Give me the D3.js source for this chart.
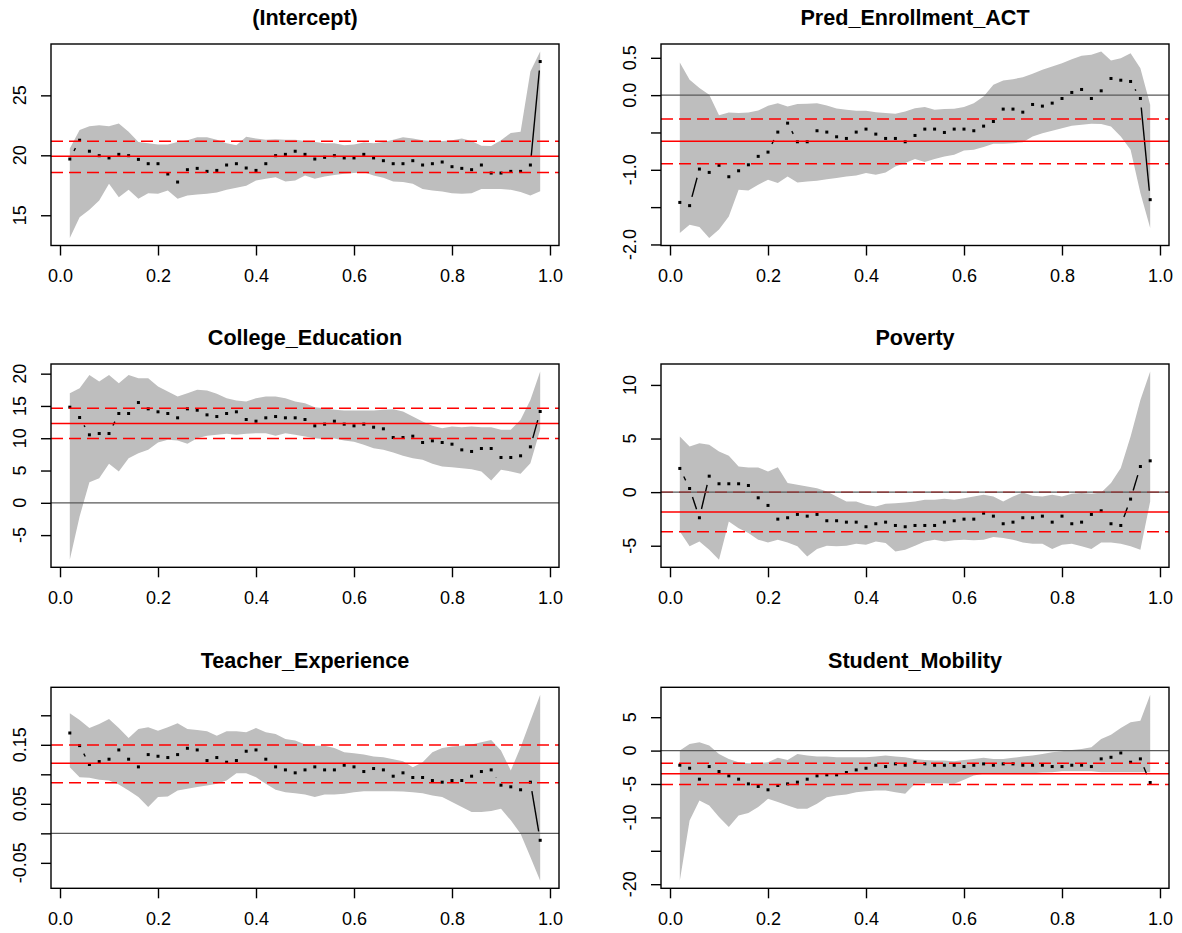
<!DOCTYPE html>
<html>
<head>
<meta charset="utf-8">
<script src="https://cdn.jsdelivr.net/npm/d3@7"></script>
<style>
  body { margin: 0; background: #fff; }
  svg { display: block; font-family: "Liberation Sans", Arial, sans-serif; }
</style>
</head>
<body>
<div id="chart"></div>
<script>
// quantile levels
var taus = [0.02, 0.04, 0.06, 0.08, 0.10, 0.12, 0.14, 0.16, 0.18, 0.20,
            0.22, 0.24, 0.26, 0.28, 0.30, 0.32, 0.34, 0.36, 0.38, 0.40,
            0.42, 0.44, 0.46, 0.48, 0.50, 0.52, 0.54, 0.56, 0.58, 0.60,
            0.62, 0.64, 0.66, 0.68, 0.70, 0.72, 0.74, 0.76, 0.78, 0.80,
            0.82, 0.84, 0.86, 0.88, 0.90, 0.92, 0.94, 0.96, 0.98];

var titles = ["(Intercept)", "Pred_Enrollment_ACT", "College_Education",
              "Poverty", "Teacher_Experience", "Student_Mobility"];

// (Intercept)
var intercept_est = [19.69, 21.26, 20.34, 19.97, 19.78, 20.08, 19.97, 19.66, 19.30, 19.30, 18.44, 17.77, 18.80, 18.91, 18.66, 18.74, 19.19, 19.30, 18.94, 18.74, 19.30, 19.97, 20.08, 20.34, 20.08, 19.69, 19.83, 19.97, 19.78, 19.78, 20.08, 19.78, 19.55, 19.30, 19.30, 19.55, 19.19, 19.30, 19.44, 19.05, 18.91, 18.80, 19.19, 18.52, 18.52, 18.66, 18.66, 19.19, 27.82];
var intercept_hi = [20.56, 22.1, 22.43, 22.5, 22.43, 22.65, 21.96, 21.1, 21.0, 20.9, 20.9, 21.1, 21.26, 21.5, 21.5, 21.3, 21.0, 20.84, 21.54, 21.4, 21.3, 21.34, 21.3, 21.3, 21.2, 21.1, 21.0, 21.0, 20.84, 20.9, 21.06, 21.0, 21.1, 21.3, 21.5, 21.4, 21.26, 21.2, 21.2, 21.26, 21.4, 21.2, 20.8, 20.78, 21.26, 21.87, 21.96, 26.98, 28.66];
var intercept_lo = [13.1, 14.83, 15.45, 16.23, 17.63, 16.5, 17.12, 16.37, 16.84, 16.79, 17.07, 16.37, 16.65, 16.73, 16.79, 16.9, 17.12, 17.3, 17.46, 17.9, 18.04, 18.18, 17.82, 17.9, 18.32, 18.04, 18.24, 18.35, 18.46, 18.52, 18.58, 18.32, 18.13, 17.82, 17.77, 17.63, 17.2, 17.07, 16.98, 16.84, 16.79, 16.84, 17.2, 17.2, 17.18, 17.12, 16.93, 16.65, 17.0];
var intercept_ols = [19.92, 18.57, 21.17]; // estimate, lower, upper

// Pred_Enrollment_ACT
var pred_est = [-1.437, -1.48, -0.99, -1.035, -0.94, -1.093, -1.013, -0.933, -0.82, -0.763, -0.495, -0.375, -0.625, -0.625, -0.477, -0.495, -0.558, -0.58, -0.495, -0.455, -0.522, -0.58, -0.58, -0.625, -0.54, -0.455, -0.455, -0.50, -0.455, -0.455, -0.477, -0.415, -0.353, -0.187, -0.187, -0.228, -0.125, -0.147, -0.107, -0.045, 0.036, 0.076, -0.045, 0.058, 0.223, 0.20, 0.183, -0.045, -1.40];
var pred_hi = [0.437, 0.205, 0.094, 0.004, -0.27, -0.232, -0.24, -0.232, -0.205, -0.143, -0.107, -0.152, -0.12, -0.116, -0.107, -0.138, -0.178, -0.196, -0.21, -0.21, -0.228, -0.24, -0.25, -0.22, -0.174, -0.16, -0.196, -0.187, -0.183, -0.16, -0.107, -0.018, 0.138, 0.196, 0.214, 0.24, 0.286, 0.34, 0.384, 0.428, 0.482, 0.527, 0.54, 0.585, 0.464, 0.495, 0.562, 0.361, -0.13];
var pred_lo = [-1.847, -1.736, -1.767, -1.914, -1.80, -1.624, -1.267, -1.276, -1.20, -1.133, -1.178, -1.089, -1.169, -1.156, -1.147, -1.125, -1.111, -1.089, -1.075, -1.044, -1.066, -1.035, -0.955, -0.91, -0.857, -0.897, -0.857, -0.821, -0.80, -0.741, -0.732, -0.696, -0.651, -0.651, -0.643, -0.63, -0.553, -0.509, -0.477, -0.442, -0.41, -0.397, -0.384, -0.388, -0.42, -0.553, -0.732, -1.312, -1.78];
var pred_ols = [-0.616, -0.920, -0.321];

// College_Education
var college_est = [14.81, 13.21, 10.53, 10.73, 10.73, 13.83, 13.83, 15.53, 14.55, 14.09, 13.83, 13.16, 14.55, 14.34, 13.62, 13.36, 13.83, 14.09, 12.9, 12.64, 13.16, 13.36, 13.16, 13.16, 12.9, 11.92, 12.18, 12.64, 12.18, 11.92, 12.18, 11.71, 11.46, 10.11, 10.11, 10.32, 9.34, 9.6, 9.34, 9.08, 8.2, 7.95, 8.41, 8.41, 7.02, 7.02, 7.28, 8.67, 14.14];
var college_hi = [16.98, 17.75, 19.81, 18.78, 19.81, 18.52, 19.81, 19.30, 19.30, 18.01, 17.23, 16.46, 16.98, 17.49, 17.39, 16.87, 16.2, 15.84, 15.69, 16.2, 16.46, 16.46, 16.2, 15.69, 15.43, 14.81, 14.65, 14.4, 14.29, 14.29, 14.29, 14.29, 14.4, 14.5, 14.14, 13.36, 12.59, 11.92, 11.56, 11.82, 11.71, 11.82, 11.71, 11.71, 11.3, 11.3, 12.85, 15.94, 20.33];
var college_lo = [-8.82, -2.12, 3.2, 3.82, 6.04, 4.85, 6.91, 7.69, 8.2, 9.34, 9.75, 9.65, 9.13, 10.01, 10.37, 10.53, 10.68, 10.53, 10.68, 10.78, 10.78, 10.37, 10.78, 10.53, 10.27, 10.01, 9.86, 9.96, 9.65, 9.44, 8.98, 8.46, 8.2, 7.79, 7.28, 6.91, 6.66, 6.04, 5.62, 5.52, 5.37, 5.21, 4.85, 3.46, 5.11, 4.85, 4.49, 6.14, 11.3];
var college_ols = [12.27, 9.95, 14.66];

// Poverty
var poverty_est = [2.21, 0.34, -2.39, 1.49, 0.78, 0.78, 0.78, 0.62, -0.53, -1.24, -2.52, -2.39, -2.08, -2.24, -2.08, -2.67, -2.67, -2.8, -2.8, -3.23, -2.95, -2.8, -3.11, -3.23, -3.11, -3.11, -3.11, -2.8, -2.67, -2.52, -2.52, -1.96, -2.24, -2.95, -2.8, -2.39, -2.39, -2.24, -2.8, -2.24, -2.95, -2.8, -2.08, -1.74, -2.95, -3.11, -0.65, 2.39, 2.92];
var poverty_hi = [5.19, 4.26, 4.57, 4.41, 3.79, 3.39, 2.39, 2.3, 2.3, 1.93, 2.33, 0.84, 0.68, 0.53, 0.37, 0.06, -0.4, -0.87, -0.87, -1.18, -1.34, -1.09, -1.03, -0.96, -0.87, -0.71, -0.71, -0.62, -0.71, -0.56, -0.4, -0.25, -0.4, -0.87, -0.4, -0.03, -0.34, -0.4, -0.25, -0.4, -0.16, -0.09, -0.16, -0.03, 0.84, 2.24, 5.19, 8.6, 11.25];
var poverty_lo = [-3.67, -5.06, -4.6, -5.37, -6.31, -2.73, -3.36, -3.82, -4.44, -4.69, -4.44, -4.69, -5.06, -6.0, -5.31, -5.0, -5.06, -5.0, -4.82, -4.91, -4.6, -4.75, -5.53, -5.37, -5.0, -4.6, -4.44, -4.6, -4.5, -4.44, -4.5, -4.44, -4.19, -4.29, -4.44, -4.69, -4.82, -4.82, -5.31, -4.91, -4.82, -5.06, -5.31, -4.69, -4.69, -4.82, -5.06, -5.37, -0.87];
var poverty_ols = [-1.86, -3.70, -0.02];

// Teacher_Experience
var teacher_est = [0.170, 0.1486, 0.1166, 0.1216, 0.1256, 0.1413, 0.1256, 0.1126, 0.1334, 0.1306, 0.1284, 0.1334, 0.1441, 0.1413, 0.1233, 0.1284, 0.1205, 0.1233, 0.1391, 0.1413, 0.1256, 0.1126, 0.1075, 0.1025, 0.1075, 0.1126, 0.1075, 0.1075, 0.1154, 0.1126, 0.1047, 0.1098, 0.1075, 0.0968, 0.1025, 0.0946, 0.0946, 0.0895, 0.0867, 0.0895, 0.0895, 0.0968, 0.1047, 0.1075, 0.0816, 0.0788, 0.0738, 0.0867, -0.0118];
var teacher_hi = [0.2033, 0.192, 0.1785, 0.1852, 0.1937, 0.1785, 0.1616, 0.1768, 0.1796, 0.174, 0.1796, 0.1864, 0.1768, 0.1751, 0.1729, 0.1655, 0.1729, 0.1729, 0.1712, 0.1785, 0.1712, 0.1684, 0.1599, 0.1571, 0.1503, 0.1486, 0.1486, 0.1447, 0.1374, 0.1357, 0.1334, 0.1301, 0.1289, 0.1256, 0.1222, 0.1120, 0.1205, 0.1374, 0.1447, 0.1470, 0.1486, 0.1503, 0.1543, 0.1582, 0.1402, 0.1064, 0.1458, 0.1909, 0.2348];
var teacher_lo = [0.112, 0.0952, 0.094, 0.0907, 0.0895, 0.0828, 0.0726, 0.0614, 0.0445, 0.0614, 0.0625, 0.0726, 0.0755, 0.0783, 0.081, 0.0839, 0.0895, 0.1019, 0.1019, 0.0952, 0.0839, 0.0738, 0.0698, 0.0681, 0.0659, 0.0614, 0.0659, 0.0659, 0.067, 0.0698, 0.0715, 0.0715, 0.0715, 0.0715, 0.0709, 0.0698, 0.0681, 0.0642, 0.0614, 0.0529, 0.0445, 0.036, 0.036, 0.0377, 0.0417, 0.022, -0.0006, -0.04, -0.0805];
var teacher_ols = [0.1188, 0.0856, 0.1498];

// Student_Mobility
var mobility_est = [-2.19, -2.64, -4.28, -2.39, -3.13, -3.78, -4.28, -4.98, -5.37, -5.87, -5.22, -4.98, -4.73, -4.28, -3.78, -3.63, -3.63, -3.28, -2.89, -2.64, -2.19, -2.39, -1.99, -2.19, -1.74, -1.99, -2.19, -2.19, -2.19, -2.39, -2.19, -1.99, -2.19, -1.99, -1.99, -2.19, -2.19, -2.19, -2.39, -2.39, -2.19, -2.19, -2.39, -1.24, -1.0, -0.35, -1.74, -1.24, -4.78];
var mobility_hi = [0.0, 1.0, 1.24, 0.75, -0.5, -1.24, -1.74, -1.89, -1.89, -1.74, -1.09, -1.39, -0.5, -0.75, -0.9, -0.9, -1.0, -1.0, -1.0, -1.0, -0.9, -0.75, -0.9, -1.0, -1.24, -1.39, -1.49, -1.49, -1.59, -1.39, -1.24, -1.09, -1.24, -1.24, -1.09, -0.9, -0.75, -0.5, -0.25, -0.1, 0.1, 0.25, 0.5, 1.74, 2.39, 3.38, 4.23, 4.48, 8.36];
var mobility_lo = [-19.5, -10.45, -7.46, -8.21, -9.95, -11.44, -9.7, -9.35, -8.46, -7.21, -7.71, -8.21, -8.71, -8.71, -7.96, -6.97, -6.72, -6.57, -6.22, -6.07, -5.97, -5.97, -6.22, -6.47, -4.98, -4.88, -4.88, -4.88, -4.98, -4.38, -3.73, -3.48, -3.48, -3.48, -3.38, -3.38, -3.38, -3.28, -3.23, -3.08, -3.08, -3.08, -3.08, -3.23, -3.23, -3.23, -3.23, -3.23, -3.23];
var mobility_ols = [-3.48, -5.07, -1.89];

// y tick labels that R actually printed (the rest were dropped for overlap)
var shownYLabels = [
  ["15", "20", "25"],
  ["-2.0", "-1.0", "0.0", "0.5"],
  ["-5", "0", "5", "10", "15", "20"],
  ["-5", "0", "5", "10"],
  ["-0.05", "0.05", "0.15"],
  ["-20", "-10", "-5", "0", "5"]
];

var panels = [
  {est: intercept_est, lo: intercept_lo, hi: intercept_hi, ols: intercept_ols},
  {est: pred_est, lo: pred_lo, hi: pred_hi, ols: pred_ols},
  {est: college_est, lo: college_lo, hi: college_hi, ols: college_ols},
  {est: poverty_est, lo: poverty_lo, hi: poverty_hi, ols: poverty_ols},
  {est: teacher_est, lo: teacher_lo, hi: teacher_hi, ols: teacher_ols},
  {est: mobility_est, lo: mobility_lo, hi: mobility_hi, ols: mobility_ols}
];

var width = 1182, height = 933;
var colX = [[51, 559], [661, 1169]];
var rowY = [[44, 245.5], [364, 567.3], [687.3, 888.3]];
var GAP = 9; // type="b" gap round each point
var tickFont = 18, titleFont = 21.6;

var locale = d3.formatLocale({decimal: ".", thousands: ",", grouping: [3], currency: ["", ""], minus: "-"});

var svg = d3.select("#chart").append("svg")
  .attr("width", width)
  .attr("height", height);

// R style 4% range extension
function rRange(vals) {
  var e = d3.extent(vals);
  var pad = (e[1] - e[0]) * 0.04;
  return [e[0] - pad, e[1] + pad];
}

panels.forEach(function(p, i) {
  var cx = colX[i % 2], ry = rowY[Math.floor(i / 2)];
  var x = d3.scaleLinear().domain(rRange(taus)).range(cx);
  var y = d3.scaleLinear().domain(rRange(p.lo.concat(p.hi, p.est))).range([ry[1], ry[0]]);

  var g = svg.append("g");
  var clipId = "clip" + i;
  svg.append("clipPath").attr("id", clipId)
    .append("rect")
    .attr("x", cx[0]).attr("y", ry[0])
    .attr("width", cx[1] - cx[0]).attr("height", ry[1] - ry[0]);

  var plot = g.append("g").attr("clip-path", "url(#" + clipId + ")");

  var rows = taus.map(function(t, k) { return {tau: t, est: p.est[k], lo: p.lo[k], hi: p.hi[k]}; });

  // confidence band
  var area = d3.area()
    .x(d => x(d.tau))
    .y0(d => y(d.lo))
    .y1(d => y(d.hi));
  plot.append("path")
    .datum(rows)
    .attr("d", area)
    .style("fill", "#bebebe");

  // estimates: points joined by lines that stop short of each point
  var pts = rows.map(d => [x(d.tau), y(d.est)]);
  var segs = [];
  for (var k = 1; k < pts.length; k++) {
    var a = pts[k - 1], b = pts[k];
    var dx = b[0] - a[0], dy = b[1] - a[1], dist = Math.hypot(dx, dy);
    if (dist > 2 * GAP) {
      segs.push([a[0] + dx * GAP / dist, a[1] + dy * GAP / dist, b[0] - dx * GAP / dist, b[1] - dy * GAP / dist]);
    }
  }
  plot.selectAll(".seg").data(segs).enter().append("line")
    .attr("x1", d => d[0]).attr("y1", d => d[1])
    .attr("x2", d => d[2]).attr("y2", d => d[3])
    .style("stroke", "#000").style("stroke-width", 1.4);
  plot.selectAll(".pt").data(rows).enter().append("rect")
    .attr("x", d => x(d.tau) - 1.5)
    .attr("y", d => y(d.est) - 1.5)
    .attr("width", 3).attr("height", 3)
    .style("fill", "#000");

  // OLS estimate and its interval
  plot.append("line")
    .attr("x1", cx[0]).attr("x2", cx[1])
    .attr("y1", y(p.ols[0])).attr("y2", y(p.ols[0]))
    .style("stroke", "#ff0000").style("stroke-width", 1.5);
  plot.selectAll(".ci").data(p.ols.slice(1)).enter().append("line")
    .attr("x1", cx[0]).attr("x2", cx[1])
    .attr("y1", d => y(d)).attr("y2", d => y(d))
    .style("stroke", "#ff0000").style("stroke-width", 1.5)
    .style("stroke-dasharray", "12,6");

  // zero line
  var yd = y.domain();
  if (yd[0] < 0 && yd[1] > 0) {
    plot.append("line")
      .attr("x1", cx[0]).attr("x2", cx[1])
      .attr("y1", y(0)).attr("y2", y(0))
      .style("stroke", "#595959").style("stroke-width", 1.3);
  }

  // box
  g.append("rect")
    .attr("x", cx[0]).attr("y", ry[0])
    .attr("width", cx[1] - cx[0]).attr("height", ry[1] - ry[0])
    .style("fill", "none").style("stroke", "#000").style("stroke-width", 1.4);

  // x axis
  var xAxis = g.append("g")
    .attr("transform", "translate(0," + ry[1] + ")")
    .call(d3.axisBottom(x).ticks(5).tickSize(10).tickSizeOuter(0).tickPadding(13.5)
      .tickFormat(locale.format(".1f")));
  xAxis.select(".domain").remove();
  xAxis.selectAll("line").style("stroke", "#000").style("stroke-width", 1.4);
  xAxis.selectAll("text").style("font-size", tickFont + "px").style("fill", "#000")
    .style("font-family", "'Liberation Sans', Arial, sans-serif");

  // y axis
  var yTicks = y.ticks(5);
  var yFmt = locale.format("." + d3.precisionFixed(yTicks[1] - yTicks[0]) + "f");
  var yAxis = g.append("g")
    .attr("transform", "translate(" + cx[0] + ",0)")
    .call(d3.axisLeft(y).tickValues(yTicks).tickSize(10).tickSizeOuter(0).tickFormat(""));
  yAxis.select(".domain").remove();
  yAxis.selectAll("line").style("stroke", "#000").style("stroke-width", 1.4);
  g.selectAll(".ylab").data(yTicks.filter(t => shownYLabels[i].indexOf(yFmt(t)) >= 0))
    .enter().append("text")
    .attr("transform", d => "translate(" + (cx[0] - 31) + "," + y(d) + ") rotate(-90)")
    .attr("dy", "0.35em")
    .attr("text-anchor", "middle")
    .style("font-size", tickFont + "px")
    .text(d => yFmt(d));

  // title
  g.append("text")
    .attr("x", (cx[0] + cx[1]) / 2)
    .attr("y", ry[0] - 19)
    .attr("text-anchor", "middle")
    .style("font-size", titleFont + "px")
    .style("font-weight", "bold")
    .text(titles[i]);
});
</script>
</body>
</html>
